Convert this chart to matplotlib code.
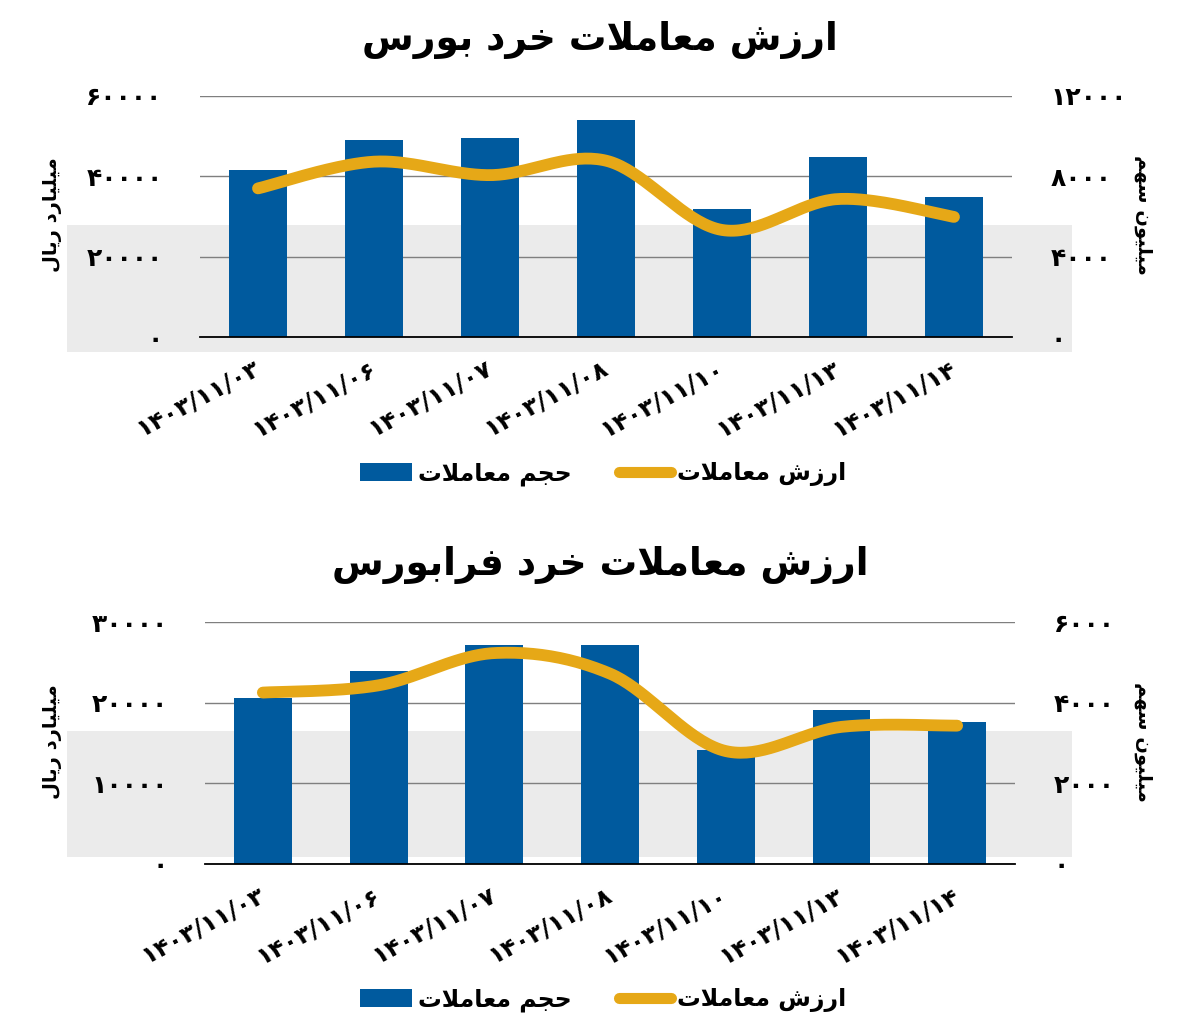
import numpy as np
import matplotlib
matplotlib.use("Agg")
import matplotlib.pyplot as plt
from matplotlib.patches import Rectangle, Patch
from matplotlib.lines import Line2D
from matplotlib.ticker import FuncFormatter, MultipleLocator

# ---------------- data ----------------
categories = ["۱۴۰۳/۱۱/۰۳", "۱۴۰۳/۱۱/۰۶", "۱۴۰۳/۱۱/۰۷", "۱۴۰۳/۱۱/۰۸",
              "۱۴۰۳/۱۱/۱۰", "۱۴۰۳/۱۱/۱۳", "۱۴۰۳/۱۱/۱۴"]

bourse_volume = [41550, 49030, 49450, 54020, 31830, 44720, 34900]   # bars, left axis
bourse_value = [7400, 8730, 8060, 8780, 5330, 6870, 5980]           # line, right axis

farabourse_volume = [20570, 23930, 27110, 27100, 14150, 19110, 17590]
farabourse_value = [4250, 4430, 5230, 4720, 2800, 3400, 3430]

title_bourse = "ارزش معاملات خرد بورس"
title_fara = "ارزش معاملات خرد فرابورس"
label_left = "میلیارد ریال"
label_right = "میلیون سهم"
legend_bar = "حجم معاملات"
legend_line = "ارزش معاملات"

# ---------------- minimal Persian shaping ----------------
FORMS = {
    'ا': ('\uFE8D', '\uFE8E', None, None),
    'ب': ('\uFE8F', '\uFE90', '\uFE91', '\uFE92'),
    'ت': ('\uFE95', '\uFE96', '\uFE97', '\uFE98'),
    'ج': ('\uFE9D', '\uFE9E', '\uFE9F', '\uFEA0'),
    'ح': ('\uFEA1', '\uFEA2', '\uFEA3', '\uFEA4'),
    'خ': ('\uFEA5', '\uFEA6', '\uFEA7', '\uFEA8'),
    'د': ('\uFEA9', '\uFEAA', None, None),
    'ر': ('\uFEAD', '\uFEAE', None, None),
    'ز': ('\uFEAF', '\uFEB0', None, None),
    'س': ('\uFEB1', '\uFEB2', '\uFEB3', '\uFEB4'),
    'ش': ('\uFEB5', '\uFEB6', '\uFEB7', '\uFEB8'),
    'ع': ('\uFEC9', '\uFECA', '\uFECB', '\uFECC'),
    'ف': ('\uFED1', '\uFED2', '\uFED3', '\uFED4'),
    'ل': ('\uFEDD', '\uFEDE', '\uFEDF', '\uFEE0'),
    'م': ('\uFEE1', '\uFEE2', '\uFEE3', '\uFEE4'),
    'ن': ('\uFEE5', '\uFEE6', '\uFEE7', '\uFEE8'),
    'ه': ('\uFEE9', '\uFEEA', '\uFEEB', '\uFEEC'),
    'و': ('\uFEED', '\uFEEE', None, None),
    'ی': ('\uFBFC', '\uFBFD', '\uFEF3', '\uFEF4'),
}


def dual(c):
    return c in FORMS and FORMS[c][2] is not None


def shape(text):
    out = []
    chars = list(text)
    i = 0
    while i < len(chars):
        c = chars[i]
        if c not in FORMS:
            out.append(c)
            i += 1
            continue
        prev = chars[i - 1] if i > 0 else ' '
        cp = dual(prev)
        if c == 'ل' and i + 1 < len(chars) and chars[i + 1] == 'ا':
            out.append('\uFEFC' if cp else '\uFEFB')
            i += 2
            continue
        nxt = chars[i + 1] if i + 1 < len(chars) else ' '
        cn = dual(c) and nxt in FORMS
        iso, fin, ini, med = FORMS[c]
        if cp and cn:
            g = med
        elif cn:
            g = ini
        elif cp:
            g = fin
        else:
            g = iso
        out.append(g)
        i += 1
    return ''.join(reversed(out))


FA_DIGITS = str.maketrans("0123456789", "۰۱۲۳۴۵۶۷۸۹")


def fa_num(v, pos=None):
    return str(int(round(v))).translate(FA_DIGITS)


def smooth(xs, ys, n=40):
    pts = np.column_stack([xs, ys]).astype(float)
    P = np.vstack([pts[0], pts, pts[-1]])
    segs = []
    t = np.linspace(0, 1, n)[:, None]
    for i in range(1, len(P) - 2):
        p0, p1, p2, p3 = P[i - 1], P[i], P[i + 1], P[i + 2]
        c1 = p1 + (p2 - p0) / 6.0
        c2 = p2 - (p3 - p1) / 6.0
        seg = (1 - t) ** 3 * p1 + 3 * (1 - t) ** 2 * t * c1 + 3 * (1 - t) * t ** 2 * c2 + t ** 3 * p2
        segs.append(seg if i == 1 else seg[1:])
    return np.vstack(segs)


# ---------------- style ----------------
plt.rcParams['font.family'] = ['DejaVu Sans']
plt.rcParams['font.weight'] = 'bold'
BAR = '#005a9e'
GOLD = '#e6a817'
GRID = '#7f7f7f'
W, H = 1200, 1036

fig = plt.figure(figsize=(W / 100, H / 100), dpi=100)
fig.patch.set_facecolor('white')


def px(x, y):
    return x / W, 1 - y / H


def draw_panel(rect, band, vol, val, ymax_l, ymax_r, title, title_y, legend_y, ylab_y):
    # watermark-like grey band behind the chart
    bx0, by0 = px(band[0], band[3])
    bx1, by1 = px(band[2], band[1])
    fig.patches.append(Rectangle((bx0, by0), bx1 - bx0, by1 - by0, transform=fig.transFigure,
                                 facecolor='#ebebeb', edgecolor='none', zorder=-10))
    ax = fig.add_axes(rect)
    ax.patch.set_alpha(0)
    x = np.arange(len(categories))
    ax.bar(x, vol, width=0.5, color=BAR, zorder=3)
    ax.set_xlim(-0.5, len(categories) - 0.5)
    ax.set_ylim(0, ymax_l)
    ax.yaxis.set_major_locator(MultipleLocator(ymax_l / 3))
    ax.yaxis.set_major_formatter(FuncFormatter(fa_num))
    ax.grid(axis='y', color=GRID, linewidth=1.0, zorder=1)
    for s in ['top', 'right', 'left']:
        ax.spines[s].set_visible(False)
    ax.spines['bottom'].set_color('black')
    ax.spines['bottom'].set_linewidth(1.3)
    ax.spines['bottom'].set_zorder(4)
    ax.tick_params(axis='both', length=0)
    ax.tick_params(axis='y', pad=27, labelsize=18)
    ax.set_xticks(x)
    ax.set_xticklabels(categories, rotation=28, ha='right', va='center',
                       rotation_mode='anchor', fontsize=17.5, fontweight='bold')
    ax.tick_params(axis='x', pad=21)

    ax2 = ax.twinx()
    ax2.set_ylim(0, ymax_r)
    ax2.yaxis.set_major_locator(MultipleLocator(ymax_r / 3))
    ax2.yaxis.set_major_formatter(FuncFormatter(fa_num))
    for s in ax2.spines.values():
        s.set_visible(False)
    ax2.tick_params(axis='y', length=0, pad=28, labelsize=18)
    curve = smooth(x, val)
    ax2.plot(curve[:, 0], curve[:, 1], color=GOLD, linewidth=8.5,
             solid_capstyle='round', zorder=5)

    fig.text(*px(600, title_y), shape(title), ha='center', va='center',
             fontsize=27, fontweight='bold')
    fig.text(*px(52, ylab_y), shape(label_left), rotation=90, ha='center', va='center',
             fontsize=14, fontweight='bold')
    fig.text(*px(1143, ylab_y), shape(label_right), rotation=-90, ha='center', va='center',
             fontsize=14, fontweight='bold')

    handles = [Patch(facecolor=BAR, edgecolor='none'),
               Line2D([0], [0], color=GOLD, linewidth=8, solid_capstyle='round')]
    ax.legend(handles, [shape(legend_bar), shape(legend_line)], loc='center',
              bbox_to_anchor=px(603, legend_y), bbox_transform=fig.transFigure,
              ncol=2, frameon=False, handlelength=2.2, handleheight=0.8,
              handletextpad=0.25, columnspacing=2.0, prop={'weight': 'bold', 'size': 17})
    return ax, ax2


draw_panel([200 / W, 1 - 337 / H, 812 / W, 241 / H], (67, 225, 1072, 352),
           bourse_volume, bourse_value, 60000, 12000,
           title_bourse, 40, 474, 215)
draw_panel([205 / W, 1 - 864 / H, 810 / W, 242 / H], (67, 731, 1072, 857),
           farabourse_volume, farabourse_value, 30000, 6000,
           title_fara, 565, 1000, 742)

fig.savefig('out.png', dpi=100, facecolor='white')
